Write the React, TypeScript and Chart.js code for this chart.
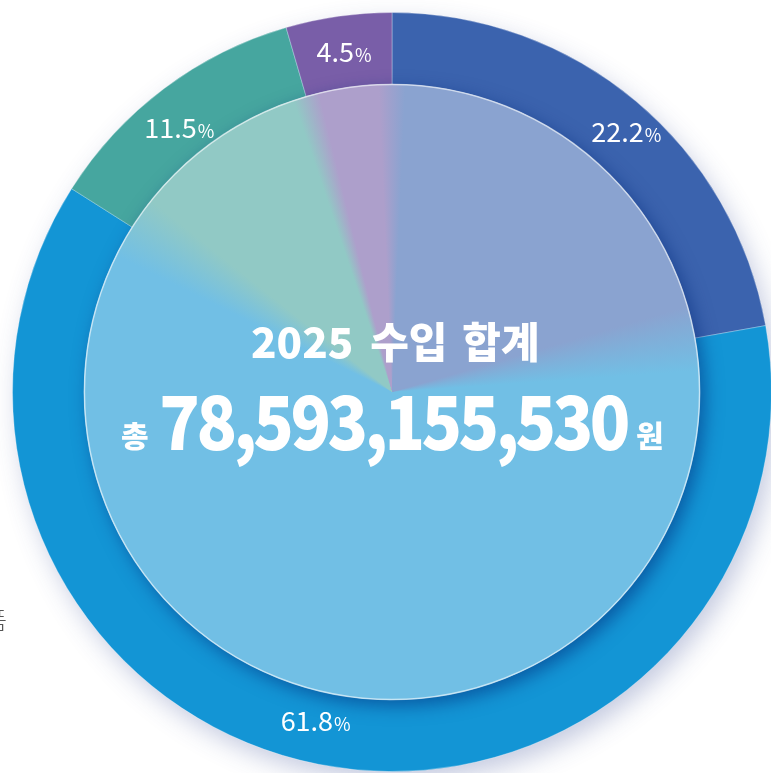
import React, { useEffect, useRef } from "react";
import { Chart, registerables } from "chart.js";

Chart.register(...registerables);

// ---- data ----
const categories = ["구분 1", "구분 2", "구분 3", "구분 4"];
const shares = [22.2, 61.8, 11.5, 4.5];
const ringColors = ["#3b63ae", "#1395d5", "#46a69f", "#795ea8"];
const innerColors = ["#8aa3d0", "#71bfe5", "#91c9c5", "#ad9fcb"];
const blendWidths = [0.017, 0.017, 0.007, 0.007];
const labelAngleNudge = [2, 2, -2, 0]; // degrees
const labelRadiusNudge = [6, -6, -4, 0]; // px
const titleText = "2025 수입 합계";
const totalPrefix = "총";
const totalValue = "78,593,155,530";
const totalSuffix = "원";

const FONT = "'Noto Sans CJK KR', 'Noto Sans', sans-serif";

function buildConic(ctx: CanvasRenderingContext2D, cx: number, cy: number) {
  const total = shares.reduce((a, b) => a + b, 0);
  const start = (shares[0] / total) * 0.45;
  const g = ctx.createConicGradient(-Math.PI / 2 + start * 2 * Math.PI, cx, cy);
  const stops: [number, string][] = [[0, innerColors[0]], [1, innerColors[0]]];
  let acc = 0;
  shares.forEach((v, i) => {
    acc += v;
    const b = acc / total;
    const p = (((b - start) % 1) + 1) % 1;
    const w = blendWidths[i];
    stops.push([Math.max(0, Math.min(1, p - w)), innerColors[i]]);
    stops.push([Math.max(0, Math.min(1, p + w)), innerColors[(i + 1) % innerColors.length]]);
  });
  stops.sort((a, b) => a[0] - b[0]);
  stops.forEach(([o, c]) => g.addColorStop(o, c));
  return g;
}

function drawFitted(
  ctx: CanvasRenderingContext2D,
  text: string,
  font: string,
  left: number,
  baseline: number,
  width: number,
  sx: number
) {
  ctx.save();
  ctx.font = font;
  ctx.textAlign = "left";
  ctx.textBaseline = "alphabetic";
  const c: any = ctx;
  c.letterSpacing = "0px";
  const m = ctx.measureText(text);
  const ink = m.actualBoundingBoxLeft + m.actualBoundingBoxRight;
  const n = Array.from(text).length;
  if (n > 1) {
    const ls = (width / sx - ink) / (n - 1);
    c.letterSpacing = `${ls.toFixed(2)}px`;
  }
  ctx.translate(left, baseline);
  ctx.scale(sx, 1);
  ctx.fillText(text, m.actualBoundingBoxLeft, 0);
  c.letterSpacing = "0px";
  ctx.restore();
}

// words keep natural spacing; the extra room goes to the gaps between words
function drawWordsFitted(
  ctx: CanvasRenderingContext2D,
  text: string,
  font: string,
  left: number,
  baseline: number,
  width: number
) {
  ctx.save();
  ctx.font = font;
  ctx.textAlign = "left";
  ctx.textBaseline = "alphabetic";
  const words = text.split(" ");
  const ms = words.map((w) => ctx.measureText(w));
  const inks = ms.map((m) => m.actualBoundingBoxLeft + m.actualBoundingBoxRight);
  const sum = inks.reduce((a, b) => a + b, 0);
  const gap = words.length > 1 ? (width - sum) / (words.length - 1) : 0;
  let x = left;
  words.forEach((w, i) => {
    ctx.fillText(w, x + ms[i].actualBoundingBoxLeft, baseline);
    x += inks[i] + gap;
  });
  ctx.restore();
}

const decorPlugin = {
  id: "decor",
  beforeDatasetsDraw(chart: any) {
    const arc = chart.getDatasetMeta(0).data[0];
    if (!arc) return;
    const { x, y, outerRadius } = arc.getProps(["x", "y", "outerRadius"], true);
    const ctx = chart.ctx as CanvasRenderingContext2D;
    ctx.save();
    ctx.shadowColor = "rgba(55,75,150,0.30)";
    ctx.shadowBlur = 26;
    ctx.shadowOffsetX = 6;
    ctx.shadowOffsetY = 10;
    ctx.beginPath();
    ctx.arc(x, y, outerRadius - 1, 0, Math.PI * 2);
    ctx.fillStyle = ringColors[1];
    ctx.fill();
    ctx.restore();
  },
  beforeDatasetDraw(chart: any, args: any) {
    if (args.index !== 1) return;
    const arc = chart.getDatasetMeta(1).data[0];
    if (!arc) return;
    const { x, y, outerRadius } = arc.getProps(["x", "y", "outerRadius"], true);
    const ctx = chart.ctx as CanvasRenderingContext2D;
    ctx.save();
    ctx.shadowColor = "rgba(0,40,120,0.55)";
    ctx.shadowBlur = 18;
    ctx.shadowOffsetX = 5;
    ctx.shadowOffsetY = 6;
    ctx.beginPath();
    ctx.arc(x, y, outerRadius, 0, Math.PI * 2);
    ctx.fillStyle = innerColors[1];
    ctx.fill();
    ctx.restore();
  },
  afterDatasetDraw(chart: any, args: any) {
    if (args.index !== 1) return;
    const arc = chart.getDatasetMeta(1).data[0];
    if (!arc) return;
    const { x, y, outerRadius } = arc.getProps(["x", "y", "outerRadius"], true);
    const ctx = chart.ctx as CanvasRenderingContext2D;
    ctx.save();
    ctx.strokeStyle = "rgba(255,255,255,0.6)";
    ctx.lineWidth = 1.5;
    ctx.beginPath();
    ctx.arc(x, y, outerRadius, 0, Math.PI * 2);
    ctx.stroke();
    ctx.restore();
  },
  afterDraw(chart: any) {
    const ctx = chart.ctx as CanvasRenderingContext2D;
    const meta = chart.getDatasetMeta(0);
    // slice labels
    meta.data.forEach((arc: any, i: number) => {
      const { x, y, startAngle, endAngle, innerRadius, outerRadius } = arc.getProps(
        ["x", "y", "startAngle", "endAngle", "innerRadius", "outerRadius"],
        true
      );
      const ang = (startAngle + endAngle) / 2 + (labelAngleNudge[i] * Math.PI) / 180;
      const r = (innerRadius + outerRadius) / 2 + labelRadiusNudge[i];
      const px = x + Math.cos(ang) * r;
      const py = y + Math.sin(ang) * r;
      const num = shares[i].toFixed(1);
      ctx.save();
      ctx.fillStyle = "#ffffff";
      ctx.textBaseline = "alphabetic";
      ctx.textAlign = "left";
      const f1 = `400 27px ${FONT}`;
      const f2 = `400 18px ${FONT}`;
      ctx.font = f1;
      const w1 = ctx.measureText(num).width;
      ctx.font = f2;
      const w2 = ctx.measureText("%").width;
      const left = px - (w1 + w2) / 2;
      const base = py + 10;
      ctx.font = f1;
      ctx.fillText(num, left, base);
      ctx.font = f2;
      ctx.fillText("%", left + w1 + 1, base);
      ctx.restore();
    });
    // center text
    const a0 = meta.data[0];
    if (!a0) return;
    const { x: cx, y: cy } = a0.getProps(["x", "y"], true);
    ctx.save();
    ctx.fillStyle = "#ffffff";
    drawWordsFitted(ctx, titleText, `900 42px ${FONT}`, cx - 140, cy - 34, 285);
    drawFitted(ctx, totalPrefix, `900 30px ${FONT}`, cx - 270, cy + 55, 28, 1);
    drawFitted(ctx, totalValue, `900 75px ${FONT}`, cx - 230, cy + 58, 466, 0.89);
    drawFitted(ctx, totalSuffix, `900 30px ${FONT}`, cx + 244, cy + 55, 28, 1);
    ctx.restore();
  },
};

export default function App() {
  const ref = useRef<HTMLCanvasElement | null>(null);
  useEffect(() => {
    if (!ref.current) return;
    const conicFor = (c: any) => {
      const ca = c.chart.chartArea;
      if (!ca) return innerColors[1];
      return buildConic(c.chart.ctx, (ca.left + ca.right) / 2, (ca.top + ca.bottom) / 2);
    };
    const chart = new Chart(ref.current, {
      type: "doughnut",
      data: {
        labels: categories,
        datasets: [
          {
            data: shares,
            backgroundColor: ringColors,
            borderColor: "rgba(255,255,255,0.3)",
            borderWidth: 1,
            weight: 72,
            order: 1,
          } as any,
          {
            data: shares,
            backgroundColor: conicFor,
            borderColor: conicFor,
            borderWidth: 1,
            weight: 308,
            order: 0,
          } as any,
        ],
      },
      options: {
        responsive: false,
        animation: false,
        devicePixelRatio: 1,
        cutout: 0,
        layout: { padding: { left: 12, top: 12, right: 28, bottom: 28 } },
        plugins: { legend: { display: false }, tooltip: { enabled: false } },
        events: [],
      } as any,
      plugins: [decorPlugin],
    });
    return () => chart.destroy();
  }, []);

  return (
    <div
      style={{
        position: "fixed",
        left: 0,
        top: 0,
        width: 771,
        height: 773,
        overflow: "hidden",
        background: "#ffffff",
      }}
    >
      <canvas
        ref={ref}
        width={800}
        height={800}
        style={{ position: "absolute", left: 0, top: 0, width: 800, height: 800 }}
      />
      <div
        style={{
          position: "absolute",
          left: -15,
          top: 604,
          fontSize: 24,
          lineHeight: "30px",
          color: "#555555",
          fontFamily: FONT,
          fontWeight: 300,
        }}
      >
        품
      </div>
    </div>
  );
}
